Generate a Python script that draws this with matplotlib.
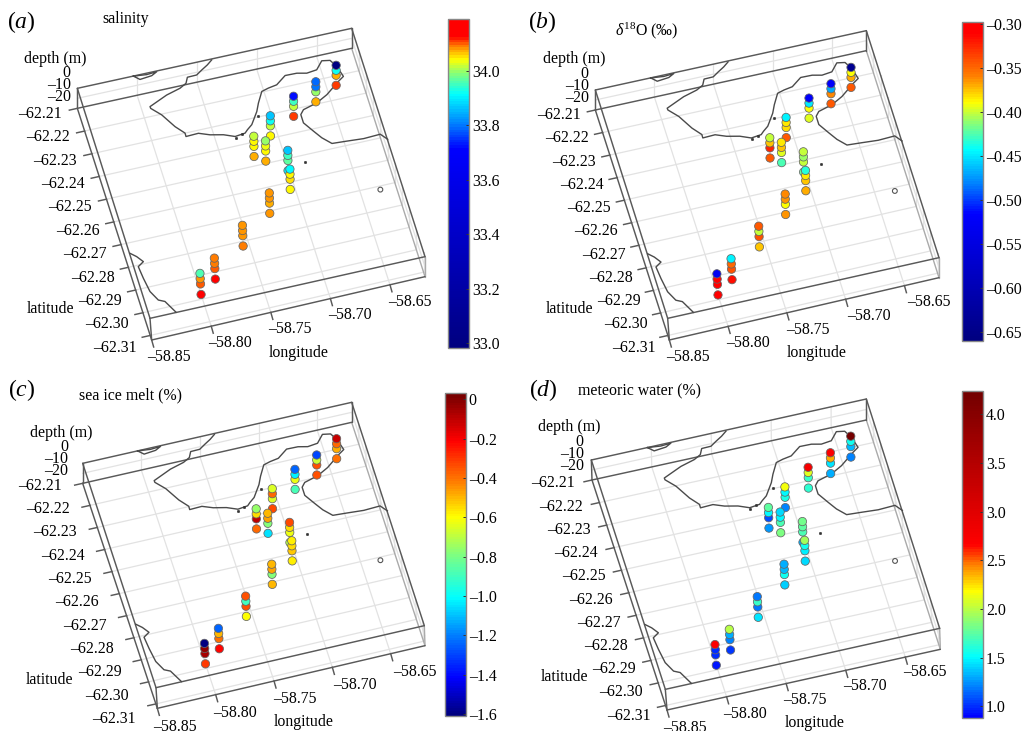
import numpy as np
import matplotlib
matplotlib.use("Agg")
import matplotlib.pyplot as plt
from matplotlib.colors import LinearSegmentedColormap, Normalize
from matplotlib.cm import ScalarMappable

plt.rcParams['font.family'] = ['Liberation Serif', 'DejaVu Serif']
plt.rcParams['mathtext.fontset'] = 'custom'
plt.rcParams['mathtext.rm'] = 'Liberation Serif'
plt.rcParams['mathtext.it'] = 'Liberation Serif:italic'
plt.rcParams['mathtext.bf'] = 'Liberation Serif:bold'

# ---------------- data ----------------
station_lon = [-58.800, -58.785, -58.755, -58.726, -58.704, -58.701,
               -58.716, -58.724, -58.706, -58.683, -58.662, -58.642]
station_lat = [-62.298, -62.293, -62.282, -62.271, -62.263, -62.255,
               -62.249, -62.246, -62.239, -62.233, -62.229, -62.224]
sample_depth = [0, 5, 10, 20]

salinity = [
    [33.96, 34.08, 34.105, 34.17], [34.09, 34.09, 34.10, 34.16],
    [34.08, 34.08, 34.085, 34.09], [34.085, 34.08, 34.075, 34.085],
    [33.91, 34.04, 34.05, 34.045], [33.86, 33.95, 33.97, 33.90],
    [34.00, 34.03, 34.04, 34.075], [34.02, 34.04, 34.04, 34.07],
    [33.86, 33.92, 34.02, 34.04], [33.72, 33.95, 34.02, 34.107],
    [33.79, 33.80, 34.00, 34.07], [33.00, 33.92, 34.07, 34.107]]
d18o = [
    [-0.53, -0.31, -0.31, -0.31], [-0.445, -0.35, -0.34, -0.315],
    [-0.345, -0.40, -0.34, -0.375], [-0.36, -0.365, -0.39, -0.365],
    [-0.435, -0.385, -0.375, -0.37], [-0.40, -0.41, -0.40, -0.42],
    [-0.385, -0.375, -0.395, -0.425], [-0.40, -0.375, -0.325, -0.345],
    [-0.445, -0.385, -0.38, -0.345], [-0.52, -0.45, -0.39, -0.395],
    [-0.52, -0.47, -0.36, -0.345], [-0.64, -0.39, -0.37, -0.345]]
sea_ice = [
    [-1.60, -0.03, -0.06, -0.30], [-1.25, -0.50, -0.40, -0.22],
    [-0.35, -0.90, -0.34, -0.60], [-0.50, -0.47, -0.78, -0.50],
    [-0.57, -0.55, -0.52, -0.57], [-0.33, -0.55, -0.63, -0.70],
    [-0.50, -0.47, -0.78, -1.05], [-0.75, -0.55, -0.10, -0.38],
    [-0.65, -0.38, -0.65, -0.33], [-1.25, -1.02, -0.63, -0.88],
    [-1.30, -0.68, -0.35, -0.34], [-0.12, -0.38, -0.48, -0.40]]
meteoric = [
    [2.70, 1.00, 1.00, 0.95], [2.00, 1.30, 1.20, 1.02],
    [1.17, 1.65, 1.18, 1.45], [1.30, 1.33, 1.55, 1.38],
    [1.95, 1.55, 1.48, 1.42], [1.80, 1.75, 1.72, 1.30],
    [1.42, 1.50, 1.72, 1.85], [1.75, 1.50, 1.08, 1.27],
    [2.15, 1.50, 1.58, 1.20], [2.75, 2.10, 1.65, 1.62],
    [2.70, 2.35, 1.45, 1.30], [4.20, 1.55, 1.35, 1.20]]

coast_lon = [-58.7379, -58.7426, -58.7482, -58.7534, -58.7612, -58.7638, -58.7697,
             -58.7818, -58.7977, -58.7976, -58.7906, -58.7831, -58.7769, -58.7770,
             -58.7665, -58.7578, -58.7473, -58.7386, -58.7300, -58.7273, -58.7227,
             -58.7155, -58.7121, -58.7066, -58.7006, -58.6933, -58.6844, -58.6747,
             -58.6669, -58.6583, -58.6521, -58.6455, -58.6418, -58.6391, -58.6442,
             -58.6566, -58.6665, -58.6786, -58.6819, -58.6819, -58.6761, -58.6713,
             -58.6648, -58.6525, -58.6389, -58.6248, -58.6203]
coast_lat = [-62.2104, -62.2121, -62.2137, -62.2153, -62.2154, -62.2178, -62.2193,
             -62.2209, -62.2242, -62.2250, -62.2287, -62.2348, -62.2384, -62.2399,
             -62.2397, -62.2414, -62.2426, -62.2444, -62.2439, -62.2427, -62.2410,
             -62.2360, -62.2326, -62.2281, -62.2273, -62.2267, -62.2236, -62.2237,
             -62.2246, -62.2241, -62.2208, -62.2214, -62.2245, -62.2293, -62.2309,
             -62.2354, -62.2379, -62.2395, -62.2413, -62.2450, -62.2494, -62.2529,
             -62.2562, -62.2566, -62.2571, -62.2568, -62.2596]
coast2_lon = [-58.8496, -58.8452, -58.8412, -58.8464, -58.8453, -58.8434, -58.8390, -58.8342, -58.8282]
coast2_lat = [-62.2832, -62.2852, -62.2879, -62.2895, -62.2948, -62.3009, -62.3052, -62.3064, -62.3119]
coast3_lon = [-58.8032, -58.7988, -58.7887, -58.7838, -58.7924, -58.8032]
coast3_lat = [-62.2100, -62.2120, -62.2115, -62.2103, -62.2106, -62.2100]
islet_lon = [-58.6903, -58.7154, -58.7386, -58.7330]
islet_lat = [-62.2615, -62.2382, -62.2450, -62.2440]
ring_lon = [-58.6386]
ring_lat = [-62.2799]

lat_ticks = [-62.21, -62.22, -62.23, -62.24, -62.25, -62.26, -62.27, -62.28, -62.29, -62.30, -62.31]
lon_ticks = [-58.85, -58.80, -58.75, -58.70, -58.65]
depth_ticks = ['0', '\u201310', '\u201320']

# colour stops: value at which each jet colour sits on each colour bar
jet_rgb = dict(navy=(0, 0, .5), blue=(0, 0, 1), azure=(0, .5, 1), cyan=(0, 1, 1),
               green=(.5, 1, .5), yellow=(1, 1, 0), orange=(1, .5, 0), red=(1, 0, 0),
               darkred=(.45, 0, 0))

salinity_stops = [(32.983, 'navy'), (33.715, 'blue'), (33.807, 'azure'), (33.917, 'cyan'),
                  (33.99, 'green'), (34.045, 'yellow'), (34.094, 'orange'), (34.13, 'red'), (34.19, 'red')]
d18o_stops = [(-0.6606, 'navy'), (-0.516, 'blue'), (-0.482, 'azure'), (-0.4425, 'cyan'),
              (-0.414, 'green'), (-0.388, 'yellow'), (-0.358, 'orange'), (-0.309, 'red'), (-0.297, 'red')]
sea_ice_stops = [(-1.61, 'navy'), (-1.42, 'blue'), (-1.20, 'azure'), (-1.01, 'cyan'), (-0.79, 'green'),
                 (-0.597, 'yellow'), (-0.42, 'orange'), (-0.207, 'red'), (0.034, 'darkred')]
meteoric_stops = [(0.88, 'blue'), (1.19, 'azure'), (1.50, 'cyan'), (1.84, 'green'), (2.18, 'yellow'),
                  (2.455, 'orange'), (2.66, 'red'), (4.24, 'darkred')]

salinity_ticks = [33.0, 33.2, 33.4, 33.6, 33.8, 34.0]
d18o_ticks = [-0.65, -0.60, -0.55, -0.50, -0.45, -0.40, -0.35, -0.30]
sea_ice_ticks = [-1.6, -1.4, -1.2, -1.0, -0.8, -0.6, -0.4, -0.2, 0]
meteoric_ticks = [1.0, 1.5, 2.0, 2.5, 3.0, 3.5, 4.0]

# ---------------- layout (3x crop coordinates plus panel offset) ----------------
LON0, LON1 = -58.85, -58.6206
LAT0, LAT1 = -62.21, -62.312
DMAX = 20.0
FS = 11.4

panels = [
    dict(off=(0, 0), letter='a', title='salinity', values=salinity, stops=salinity_stops,
         ticks=salinity_ticks, fmt='{:.1f}',
         top=[(232, 265), (1055, 85), (1275, 770), (450, 955)],
         bot=[(232, 325), (1055, 145), (1275, 830), (455, 1020)],
         lat0=(187, 342), lat1=(410, 1043), lon0=(508, 1070), lon1=(1230, 905),
         dep=[(212, 220), (212, 255), (212, 292)], dlab=(167, 178), latlab=(153, 927),
         lonlab=(895, 1060), tit=(378, 57), let=(65, 65), cb=(448, 19, 469, 348)),
    dict(off=(512, 0), letter='b', title=r'$\delta^{18}$O (‰)', values=d18o, stops=d18o_stops,
         ticks=d18o_ticks, fmt='{:.2f}',
         top=[(250, 270), (1063, 92), (1281, 773), (467, 955)],
         bot=[(250, 330), (1063, 152), (1281, 833), (472, 1020)],
         lat0=(207, 345), lat1=(430, 1043), lon0=(528, 1072), lon1=(1250, 905),
         dep=[(230, 222), (232, 257), (232, 293)], dlab=(187, 178), latlab=(172, 927),
         lonlab=(914, 1060), tit=(405, 92), let=(92, 65), cb=(962, 21.7, 983, 341)),
    dict(off=(0, 365), letter='c', title='sea ice melt (%)', values=sea_ice, stops=sea_ice_stops,
         ticks=sea_ice_ticks, fmt='{:.1f}',
         top=[(248, 295), (1055, 112), (1273, 782), (468, 968)],
         bot=[(248, 355), (1055, 172), (1275, 842), (472, 1030)],
         lat0=(187, 362), lat1=(408, 1062), lon0=(525, 1085), lon1=(1245, 920),
         dep=[(205, 245), (205, 283), (205, 318)], dlab=(185, 203), latlab=(150, 945),
         lonlab=(910, 1072), tit=(392, 92), let=(65, 75), cb=(445, 392.7, 466, 716)),
    dict(off=(512, 365), letter='d', title='meteoric water (%)', values=meteoric, stops=meteoric_stops,
         ticks=meteoric_ticks, fmt='{:.1f}',
         top=[(238, 285), (1063, 102), (1283, 790), (460, 973)],
         bot=[(240, 345), (1063, 165), (1285, 853), (465, 1035)],
         lat0=(190, 355), lat1=(415, 1052), lon0=(518, 1090), lon1=(1240, 920),
         dep=[(215, 232), (215, 267), (215, 303)], dlab=(172, 187), latlab=(158, 937),
         lonlab=(907, 1075), tit=(382, 78), let=(95, 75), cb=(962, 391, 983, 718)),
]

W, H = 1025, 731
fig = plt.figure(figsize=(W / 100, H / 100), dpi=100)
ax = fig.add_axes([0, 0, 1, 1])
ax.set_xlim(0, W)
ax.set_ylim(H, 0)
ax.axis('off')


def label(v, fmt):
    s = '0' if v == 0 else fmt.format(abs(v))
    return ('\u2013' + s) if v < 0 else s


def make_projection(p):
    ox, oy = p['off']
    top = np.array(p['top'], float) / 3 + (ox, oy)
    bot = np.array(p['bot'], float) / 3 + (ox, oy)

    def project(lon, lat, depth=0.0):
        lon, lat, depth = np.broadcast_arrays(np.asarray(lon, float), np.asarray(lat, float),
                                              np.asarray(depth, float))
        u = (lon - LON0) / (LON1 - LON0)
        v = (lat - LAT0) / (LAT1 - LAT0)
        z = depth / DMAX
        w = [(1 - u) * (1 - v), u * (1 - v), u * v, (1 - u) * v]
        xt = sum(w[i] * top[i, 0] for i in range(4))
        yt = sum(w[i] * top[i, 1] for i in range(4))
        xb = sum(w[i] * bot[i, 0] for i in range(4))
        yb = sum(w[i] * bot[i, 1] for i in range(4))
        return xt + (xb - xt) * z, yt + (yb - yt) * z
    return project


def seg(project, a, b, **kw):
    x, y = project([a[0], b[0]], [a[1], b[1]], [a[2], b[2]])
    ax.plot(x, y, solid_capstyle='round', **kw)


GRID = dict(color='#e2e2e2', lw=0.9, zorder=1)
BOX = dict(color='#595959', lw=1.05, zorder=3)
BOXL = dict(color='#aaaaaa', lw=1.0, zorder=2)

for p in panels:
    ox, oy = p['off']
    P = make_projection(p)
    pos = lambda q: (q[0] / 3 + ox, q[1] / 3 + oy)

    # grid: floor, back wall, right wall
    for lon in lon_ticks[1:]:
        seg(P, (lon, LAT0, DMAX), (lon, LAT1, DMAX), **GRID)
        seg(P, (lon, LAT0, 0), (lon, LAT0, DMAX), **GRID)
    for lat in lat_ticks[1:]:
        seg(P, (LON0, lat, DMAX), (LON1, lat, DMAX), **GRID)
        seg(P, (LON1, lat, 0), (LON1, lat, DMAX), **GRID)
    seg(P, (LON0, LAT0, 10), (LON1, LAT0, 10), **GRID)
    seg(P, (LON1, LAT0, 10), (LON1, LAT1, 10), **GRID)

    # box
    c = [(LON0, LAT0), (LON1, LAT0), (LON1, LAT1), (LON0, LAT1)]
    for i in range(4):
        a, b = c[i], c[(i + 1) % 4]
        seg(P, (*a, 0), (*b, 0), **BOX)
        seg(P, (*a, DMAX), (*b, DMAX), **(BOXL if i == 1 else BOX))
        seg(P, (*a, 0), (*a, DMAX), **(BOXL if i == 2 else BOX))

    # ticks
    for lat in lat_ticks:
        x, y = P(LON0, lat, DMAX)
        ax.plot([x, x - 8], [y, y + 1.8], **BOX)
    for lon in lon_ticks:
        x, y = P(lon, LAT1, DMAX)
        ax.plot([x, x + 2], [y, y + 7], **BOX)

    # coast
    for lo, la in ((coast_lon, coast_lat), (coast2_lon, coast2_lat), (coast3_lon, coast3_lat)):
        x, y = P(lo, la, 0)
        ax.plot(x, y, color='#4a4a4a', lw=1.0, zorder=4, solid_joinstyle='round')
    x, y = P(islet_lon, islet_lat, 0)
    ax.scatter(x, y, s=3, facecolor='#333333', edgecolor='#333333', linewidth=0.4, zorder=4)
    x, y = P(ring_lon, ring_lat, 0)
    ax.scatter(x, y, s=12, facecolor='none', edgecolor='#555555', linewidth=0.8, zorder=4)

    # colour map
    vals = [s[0] for s in p['stops']]
    vmin, vmax = vals[0], vals[-1]
    cmap = LinearSegmentedColormap.from_list(
        'c' + p['letter'], [((v - vmin) / (vmax - vmin), jet_rgb[n]) for v, n in p['stops']], N=128)
    norm = Normalize(vmin, vmax)

    # samples, deepest first so the surface one is on top
    values = np.array(p['values'])
    for k in range(len(sample_depth) - 1, -1, -1):
        x, y = P(station_lon, station_lat, sample_depth[k])
        ax.scatter(x, y, c=values[:, k], cmap=cmap, norm=norm, s=36,
                   edgecolor='#666666', linewidth=0.55, zorder=5 + (3 - k))

    # texts
    t = lambda q, s, **kw: ax.text(*pos(q), s, fontsize=FS, va='center', zorder=20, **kw)
    n = len(lat_ticks)
    for i, lat in enumerate(lat_ticks):
        f = i / (n - 1)
        q = (p['lat0'][0] + f * (p['lat1'][0] - p['lat0'][0]), p['lat0'][1] + f * (p['lat1'][1] - p['lat0'][1]))
        t(q, label(lat, '{:.2f}'), ha='right')
    n = len(lon_ticks)
    for i, lon in enumerate(lon_ticks):
        f = i / (n - 1)
        q = (p['lon0'][0] + f * (p['lon1'][0] - p['lon0'][0]), p['lon0'][1] + f * (p['lon1'][1] - p['lon0'][1]))
        t(q, label(lon, '{:.2f}'), ha='center')
    for q, s in zip(p['dep'], depth_ticks):
        t(q, s, ha='right')
    t(p['dlab'], 'depth (m)', ha='center')
    t(p['latlab'], 'latitude', ha='center')
    t(p['lonlab'], 'longitude', ha='center')
    t(p['tit'], p['title'], ha='center')
    ax.text(*pos(p['let']), '(' + r'$\mathit{' + p['letter'] + r'}$' + ')', fontsize=17,
            ha='center', va='center', zorder=20)

    # colour bar
    x0, y0, x1, y1 = p['cb']
    cax = fig.add_axes([x0 / W, 1 - y1 / H, (x1 - x0) / W, (y1 - y0) / H])
    cb = fig.colorbar(ScalarMappable(norm=norm, cmap=cmap), cax=cax)
    cb.set_ticks(p['ticks'])
    cb.set_ticklabels([label(v, p['fmt']) for v in p['ticks']])
    cb.ax.tick_params(direction='in', length=2, width=0.7, pad=2, labelsize=FS, color='#333333')
    cb.outline.set_edgecolor('#888888')
    cb.outline.set_linewidth(1.0)

fig.savefig('out.png', dpi=100)
